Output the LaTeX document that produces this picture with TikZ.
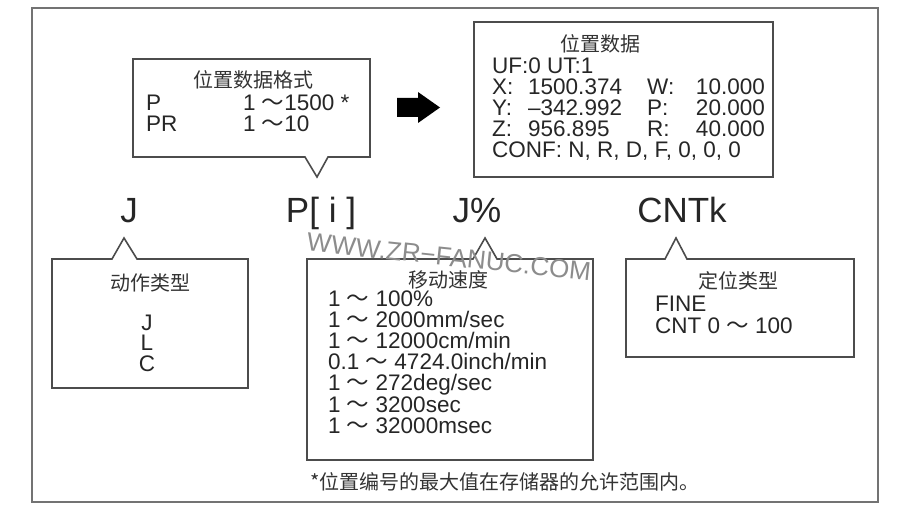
\documentclass[tikz,border=0pt]{standalone}
\usepackage{fontspec}
\setmainfont{Liberation Sans}
\newfontfamily\cjk{Noto Sans CJK SC}
\newcommand\wave{{\cjk ～}}

\begin{document}
\begin{tikzpicture}[x=1pt, y=-1pt,
  box/.style={draw=black!70, line width=1.6pt, fill=white, line join=miter},
  txt/.style={font=\fontsize{22.5}{21}\selectfont, text=black!85, inner sep=0pt, text height=16pt, text depth=0pt, anchor=west},
  ttl/.style={font=\cjk\fontsize{20}{20}\selectfont, text=black!80, inner sep=0pt, text height=16pt, text depth=0pt},
  big/.style={font=\fontsize{35}{35}\selectfont, text=black!85, inner sep=0pt, text height=24pt, text depth=0pt}]
  \useasboundingbox (0,0) rectangle (902,510);
  \draw[draw=black!55, line width=2pt] (32,8) rectangle (878,502);

  % position data format
  \draw[box] (133,59) -- (370,59) -- (370,157) -- (328,157) -- (317,177) -- (305,157) -- (133,157) -- cycle;
  \node[ttl] (fmt) at (253,80) {位置数据格式};
  \node[txt] (fmtP) at (146,103) {P};
  \node[txt] (fmtPv) at (243,103) {1 \wave1500 *};
  \node[txt] (fmtPR) at (146,124) {PR};
  \node[txt] (fmtPRv) at (243,124) {1 \wave10};

  % arrow
  \fill (397,98) -- (418,98) -- (418,92) -- (440,107.5) -- (418,123) -- (418,117) -- (397,117) -- cycle;

  % position data
  \draw[box] (474,22) rectangle (773,177);
  \node[ttl] (dat) at (600,44) {位置数据};
  \node[txt] (uf) at (492,66) {UF:0 UT:1};
  \node[txt] (xl) at (492,87) {X:};
  \node[txt] (xv) at (528,87) {1500.374};
  \node[txt] (yl) at (492,108) {Y:};
  \node[txt] (yv) at (528,108) {–342.992};
  \node[txt] (zl) at (492,129) {Z:};
  \node[txt] (zv) at (528,129) {956.895};
  \node[txt] (wl) at (647,87) {W:};
  \node[txt, anchor=east] (wv) at (765,87) {10.000};
  \node[txt] (pl) at (647,108) {P:};
  \node[txt, anchor=east] (pv) at (765,108) {20.000};
  \node[txt] (rl) at (647,129) {R:};
  \node[txt, anchor=east] (rv) at (765,129) {40.000};
  \node[txt] (conf) at (492,150) {CONF: N, R, D, F, 0, 0, 0};

  % instruction
  \node[big] (j) at (129,211) {J};
  \node[big] (pi) at (321,211) {P[ i ]};
  \node[big] (jp) at (477,211) {J\%};
  \node[big] (cnt) at (682,211) {CNTk};

  % motion type
  \draw[box] (52,259) -- (112,259) -- (124,238) -- (137,259) -- (248,259) -- (248,388) -- (52,388) -- cycle;
  \node[ttl] (mot) at (150,283) {动作类型};
  \node[txt, anchor=center] (mj) at (147,323) {J};
  \node[txt, anchor=center] (ml) at (147,343) {L};
  \node[txt, anchor=center] (mc) at (147,363) {C};

  % speed
  \draw[box] (307,259) -- (473,259) -- (485,238) -- (497,259) -- (593,259) -- (593,460) -- (307,460) -- cycle;
  \node[ttl] (spd) at (448,280) {移动速度};
  \node[txt] (s1) at (328,299) {1 \wave{} 100\%};
  \node[txt] (s2) at (328,320) {1 \wave{} 2000mm/sec};
  \node[txt] (s3) at (328,341) {1 \wave{} 12000cm/min};
  \node[txt] (s4) at (328,362) {0.1 \wave{} 4724.0inch/min};
  \node[txt] (s5) at (328,383) {1 \wave{} 272deg/sec};
  \node[txt] (s6) at (328,404) {1 \wave{} 3200sec};
  \node[txt] (s7) at (328,425) {1 \wave{} 32000msec};

  % positioning type
  \draw[box] (626,259) -- (665,259) -- (676,238) -- (687,259) -- (854,259) -- (854,357) -- (626,357) -- cycle;
  \node[ttl] (pos) at (738,281) {定位类型};
  \node[txt] (fine) at (655,304) {FINE};
  \node[txt] (cntv) at (655,326) {CNT 0 \wave{} 100};

  % note
  \node[ttl] (note) at (505,481) {*位置编号的最大值在存储器的允许范围内。};

  % watermark
  \node[font=\fontsize{26}{26}\selectfont, text=black!45, rotate=-6, inner sep=0pt] (wm) at (449,257) {WWW.ZR−FANUC.COM};
\end{tikzpicture}
\end{document}
